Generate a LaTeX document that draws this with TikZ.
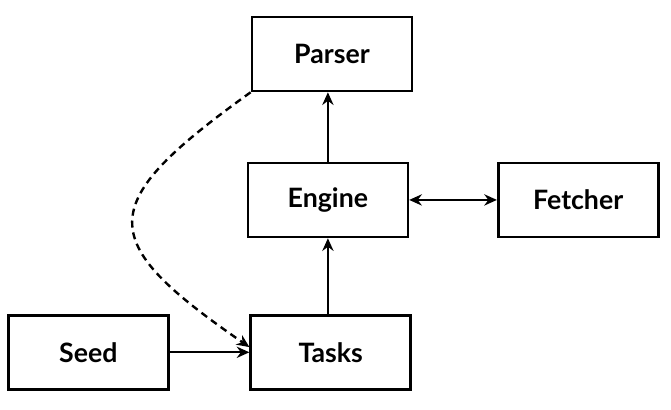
\documentclass[tikz,border=0pt]{standalone}
\usepackage{fontspec}
\setmainfont{Lato}
\usetikzlibrary{arrows.meta,positioning}

\begin{document}
\begin{tikzpicture}[every node/.style={font=\fontsize{19}{22}\selectfont\bfseries},
  modul/.style={draw,line width=1.9pt,minimum width=4cm,minimum height=1.85cm,align=center},
  ok/.style={line width=1.7pt,-{Stealth[length=9pt,width=8pt]}}]
\useasboundingbox (0,0) rectangle (16.78,10.25);
\node[modul] (p) at (8.3,8.9) {Parser};
\node[modul] (e) at (8.2,5.25) {Engine};
\node[modul] (f) at (14.46,5.25) {Fetcher};
\node[modul] (t) at (8.27,1.44) {Tasks};
\node[modul] (s) at (2.21,1.44) {Seed};
\draw[ok] (s)--(t);
\draw[ok] (e.north) -- (e.north |- p.south);
\draw[ok] (t.north -| e.south) -- (e.south);
\draw[line width=1.7pt,{Stealth[length=9pt,width=8pt]}-{Stealth[length=9pt,width=8pt]}] (e)--(f);
% geri besleme
\draw[ok,dash pattern=on 5pt off 3.5pt] (p.south west) .. controls (2.35,5.13) and (2.35,4.25) .. ([yshift=0.13cm]t.west);
\end{tikzpicture}
\end{document}
